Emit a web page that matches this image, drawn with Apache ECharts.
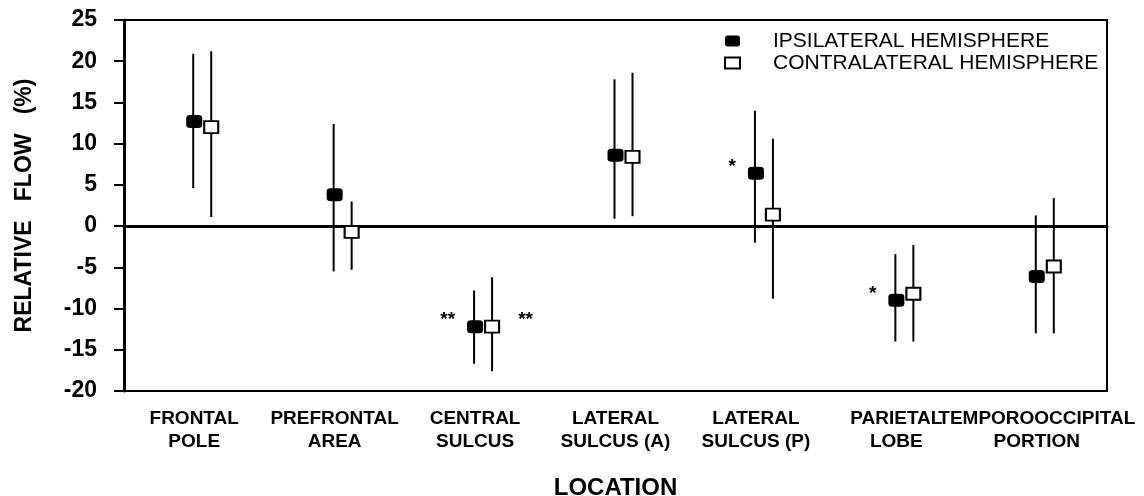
<!DOCTYPE html>
<html>
<head>
<meta charset="utf-8">
<script src="https://cdn.jsdelivr.net/npm/echarts@6/dist/echarts.min.js"></script>
<style>
html,body{margin:0;padding:0;background:#fff;}
#chart{width:1144px;height:496px;}
</style>
</head>
<body>
<div id="chart"></div>
<script>
// ---- data ----
const categories = ['FRONTAL\nPOLE', 'PREFRONTAL\nAREA', 'CENTRAL\nSULCUS', 'LATERAL\nSULCUS (A)', 'LATERAL\nSULCUS (P)', 'PARIETAL\nLOBE', 'TEMPOROOCCIPITAL\nPORTION'];
const ipsiMean  = [12.7, 3.8, -12.2, 8.6, 6.4, -9.0, -6.1];
const ipsiHigh  = [20.9, 12.4, -7.8, 17.8, 14.0, -3.4, 1.3];
const ipsiLow   = [4.6, -5.5, -16.7, 0.9, -2.0, -14.0, -13.0];
const contraMean = [12.0, -0.7, -12.2, 8.4, 1.4, -8.2, -4.9];
const contraHigh = [21.2, 3.0, -6.2, 18.6, 10.6, -2.3, 3.4];
const contraLow  = [1.1, -5.3, -17.6, 1.2, -8.8, -14.0, -13.0];
const ipsiSig   = ['', '', '**', '', '*', '*', ''];
const contraSig = ['', '', '**', '', '', '', ''];
const yTicks = { min: -20, max: 25, interval: 5 };
const seriesNames = ['IPSILATERAL HEMISPHERE', 'CONTRALATERAL HEMISPHERE'];

// ---- chart ----
const FONT = '"Liberation Sans", Arial, Helvetica, sans-serif';
const chart = echarts.init(document.getElementById('chart'), null, { renderer: 'canvas' });
const OPEN_DX = 17;

function errorBarSeries(low, high, dx) {
  return {
    type: 'custom',
    silent: true,
    z: 1,
    data: categories.map((c, i) => [i, low[i], high[i]]),
    renderItem: function (params, api) {
      const p1 = api.coord([api.value(0), api.value(1)]);
      const p2 = api.coord([api.value(0), api.value(2)]);
      return {
        type: 'line',
        shape: { x1: p1[0] + dx, y1: p1[1], x2: p2[0] + dx, y2: p2[1] },
        style: { stroke: '#000', lineWidth: 2 }
      };
    }
  };
}

function sigData(means, sig) {
  return means.map((v, i) => {
    const item = { value: [i, v] };
    if (sig[i]) item.label = { show: true, formatter: sig[i] };
    return item;
  });
}

const option = {
  animation: false,
  backgroundColor: '#fff',
  textStyle: { fontFamily: FONT },
  grid: { left: 124, right: 37, top: 20, bottom: 105, show: true, borderColor: '#000', borderWidth: 2, backgroundColor: 'transparent', containLabel: false, outerBoundsMode: 'none' },
  legend: {
    orient: 'vertical',
    left: 724, top: 30, padding: 0,
    itemWidth: 15, itemHeight: 11, itemGap: 0,
    selectedMode: false,
    textStyle: { fontFamily: FONT, fontSize: 21, color: '#000', lineHeight: 22, padding: [0, 0, 0, 28] },
    data: seriesNames
  },
  xAxis: {
    type: 'category',
    data: categories,
    boundaryGap: true,
    name: 'LOCATION',
    nameLocation: 'middle',
    nameGap: 85,
    nameTextStyle: { fontFamily: FONT, fontSize: 24, fontWeight: 'bold', color: '#000' },
    axisLine: { lineStyle: { color: '#000', width: 3 } },
    axisTick: { alignWithLabel: true, length: 9, lineStyle: { color: '#000', width: 2 } },
    axisLabel: { color: '#000', fontFamily: FONT, fontSize: 19, fontWeight: 'bold', lineHeight: 23, margin: 16, interval: 0 },
    splitLine: { show: false }
  },
  yAxis: {
    type: 'value',
    min: yTicks.min, max: yTicks.max, interval: yTicks.interval,
    name: 'RELATIVE   FLOW   (%)',
    nameLocation: 'middle',
    nameGap: 88,
    nameTextStyle: { fontFamily: FONT, fontSize: 23, fontWeight: 'bold', color: '#000' },
    axisLine: { show: true, lineStyle: { color: '#000', width: 3 } },
    axisTick: { show: true, length: 10, lineStyle: { color: '#000', width: 2 } },
    axisLabel: { color: '#000', fontFamily: FONT, fontSize: 23, fontWeight: 'bold', margin: 27 },
    splitLine: { show: false }
  },
  series: [
    errorBarSeries(ipsiLow, ipsiHigh, -1),
    errorBarSeries(contraLow, contraHigh, OPEN_DX),
    {
      name: seriesNames[0],
      type: 'scatter',
      z: 3,
      symbol: 'roundRect',
      symbolSize: [16, 13],
      itemStyle: { color: '#000', opacity: 1 },
      label: { show: false, position: 'left', distance: 12, offset: [0, -7], color: '#000', fontSize: 19, fontWeight: 'bold', fontFamily: FONT },
      data: sigData(ipsiMean, ipsiSig),
      markLine: {
        silent: true,
        symbol: 'none',
        label: { show: false },
        lineStyle: { color: '#000', width: 2, type: 'solid' },
        data: [{ yAxis: 0 }]
      }
    },
    {
      name: seriesNames[1],
      type: 'scatter',
      z: 3,
      symbol: 'rect',
      symbolSize: [14, 12],
      symbolOffset: [OPEN_DX, 0],
      itemStyle: { color: '#fff', borderColor: '#000', borderWidth: 2, opacity: 1 },
      label: { show: false, position: 'right', distance: 18, offset: [0, -7], color: '#000', fontSize: 19, fontWeight: 'bold', fontFamily: FONT },
      data: sigData(contraMean, contraSig)
    }
  ]
};
chart.setOption(option);
</script>
</body>
</html>
